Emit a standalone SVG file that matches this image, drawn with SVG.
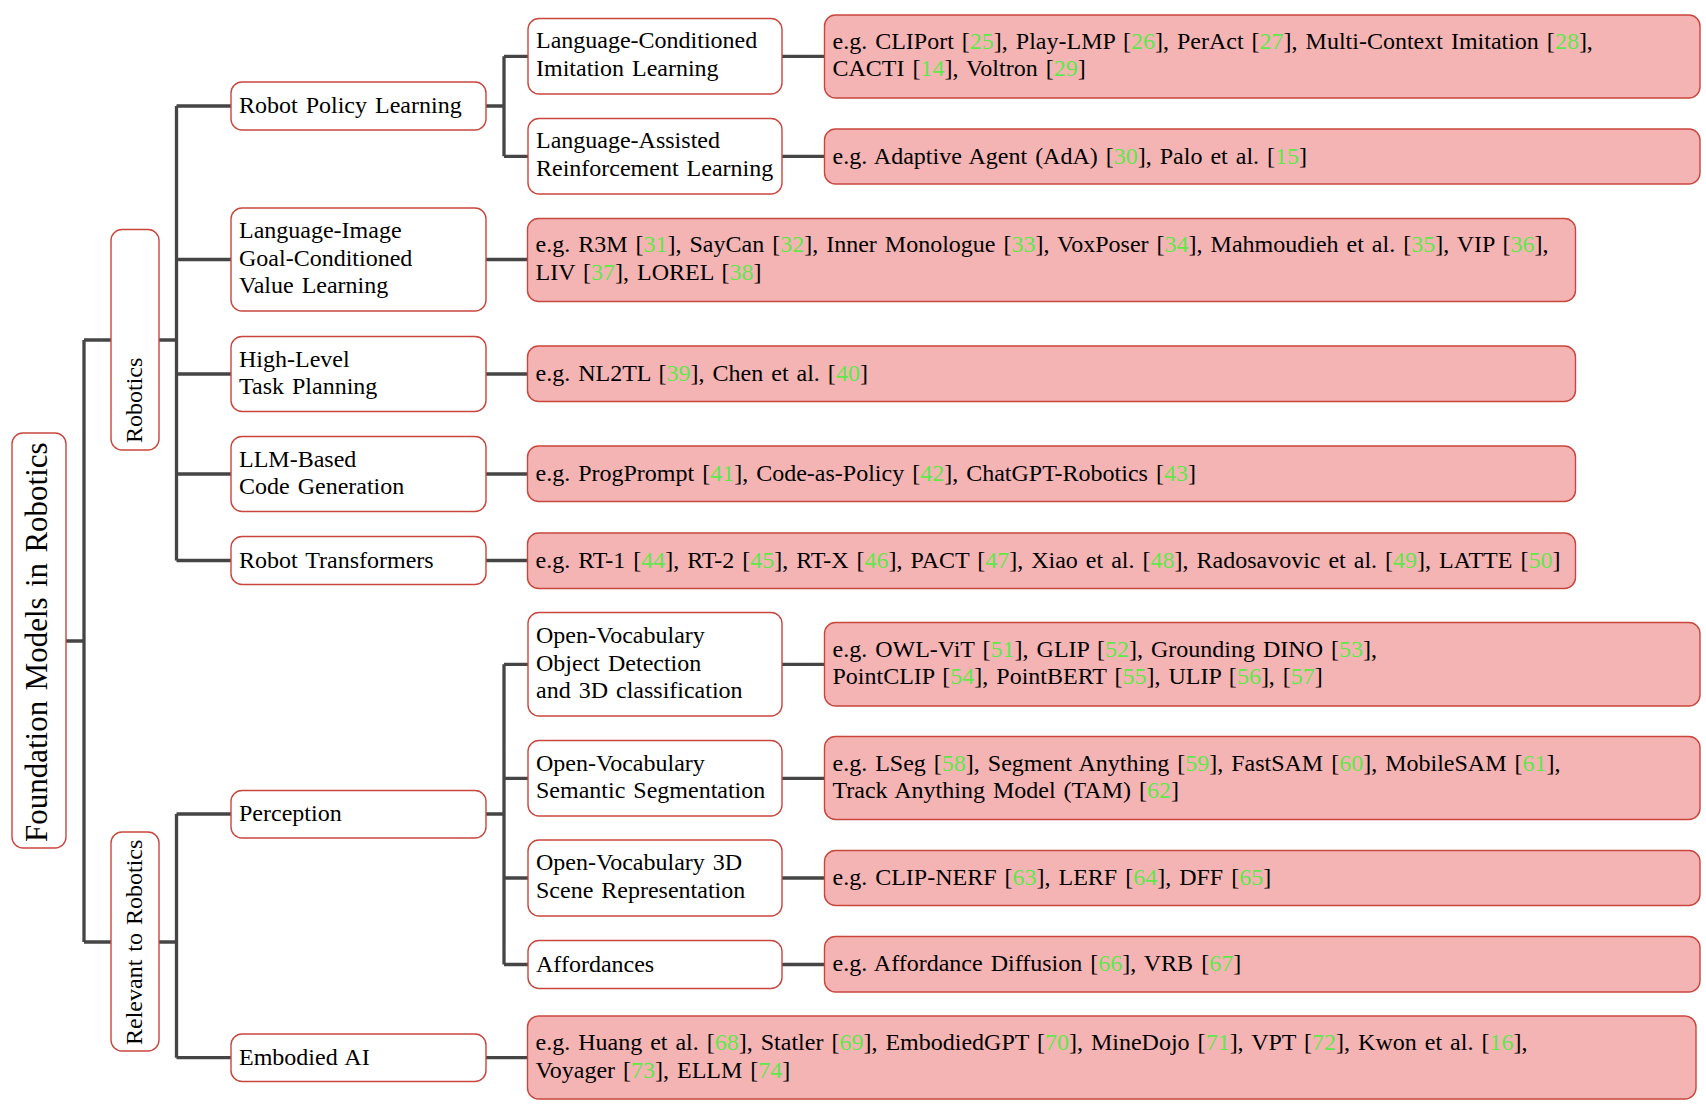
<svg xmlns="http://www.w3.org/2000/svg" width="1706" height="1114" viewBox="0 0 1706 1114">
<style>
text{font-family:"Liberation Serif","Times New Roman",serif;font-size:24px;fill:#000;word-spacing:2px}
.box{fill:#fff;stroke:#c9463d;stroke-width:1.4}
.ref{fill:#f4b4b4;stroke:#c9463d;stroke-width:1.4}
.g{fill:#5ee84a}
.root{font-size:31px;word-spacing:2.6px}
#connectors path{fill:none;stroke:#454545;stroke-width:3.3}
</style>
<rect width="1706" height="1114" fill="#fff"/>
<g id="connectors">
<path d="M66 641H84M84 340V942M84 340H111M84 942H111"/>
<path d="M159 340H176.5M176.5 106V560.5M176.5 106H231M176.5 259.5H231M176.5 374H231M176.5 474H231M176.5 560.5H231"/>
<path d="M159 942H176.5M176.5 814V1057.7M176.5 814H231M176.5 1057.7H231"/>
<path d="M486 106H504M504 56.3V156.3M504 56.3H528M504 156.3H528"/>
<path d="M486 814H504M504 664.3V964.5M504 664.3H528M504 778.3H528M504 878H528M504 964.5H528"/>
<path d="M782 56.3H824.5M782 156.3H824.5M782 664.3H824.5M782 778.3H824.5M782 878H824.5M782 964.5H824.5"/>
<path d="M486 259.5H527.5M486 374H527.5M486 474H527.5M486 560.5H527.5M486 1057.7H527.5"/>
</g>
<g id="root">
<rect class="box" x="12" y="433" width="54" height="415" rx="11"/>
<text class="root" transform="translate(47,842) rotate(-90)">Foundation Models in Robotics</text>
</g>
<g id="robotics">
<rect class="box" x="111" y="229.5" width="48" height="220.5" rx="11"/>
<text transform="translate(142,443) rotate(-90)">Robotics</text>
</g>
<g id="relevant">
<rect class="box" x="111" y="832" width="48" height="219" rx="11"/>
<text transform="translate(142,1045) rotate(-90)">Relevant to Robotics</text>
</g>
<g id="robot-policy-learning">
<rect class="box" x="231" y="82" width="255" height="48" rx="11"/>
<text x="239" y="113">Robot Policy Learning</text>
</g>
<g id="lang-image">
<rect class="box" x="231" y="208" width="255" height="103" rx="11"/>
<text x="239" y="238">Language-Image</text>
<text x="239" y="266">Goal-Conditioned</text>
<text x="239" y="293">Value Learning</text>
</g>
<g id="high-level">
<rect class="box" x="231" y="336.5" width="255" height="75" rx="11"/>
<text x="239" y="366.5">High-Level</text>
<text x="239" y="394">Task Planning</text>
</g>
<g id="llm-code">
<rect class="box" x="231" y="436.5" width="255" height="75" rx="11"/>
<text x="239" y="466.5">LLM-Based</text>
<text x="239" y="494">Code Generation</text>
</g>
<g id="robot-transformers">
<rect class="box" x="231" y="536.5" width="255" height="48" rx="11"/>
<text x="239" y="567.5">Robot Transformers</text>
</g>
<g id="perception">
<rect class="box" x="231" y="790.5" width="255" height="47.5" rx="11"/>
<text x="239" y="821.3">Perception</text>
</g>
<g id="embodied-ai">
<rect class="box" x="231" y="1034" width="255" height="47.5" rx="11"/>
<text x="239" y="1064.7">Embodied AI</text>
</g>
<g id="lang-cond-il">
<rect class="box" x="528" y="18.5" width="254" height="75.5" rx="11"/>
<text x="536" y="48.3">Language-Conditioned</text>
<text x="536" y="76">Imitation Learning</text>
</g>
<g id="lang-assist-rl">
<rect class="box" x="528" y="118.5" width="254" height="75.5" rx="11"/>
<text x="536" y="148.3">Language-Assisted</text>
<text x="536" y="176">Reinforcement Learning</text>
</g>
<g id="ov-detection">
<rect class="box" x="528" y="612.5" width="254" height="103.5" rx="11"/>
<text x="536" y="643">Open-Vocabulary</text>
<text x="536" y="670.5">Object Detection</text>
<text x="536" y="698">and 3D classification</text>
</g>
<g id="ov-segmentation">
<rect class="box" x="528" y="740.5" width="254" height="75.5" rx="11"/>
<text x="536" y="770.5">Open-Vocabulary</text>
<text x="536" y="798">Semantic Segmentation</text>
</g>
<g id="ov-3d-scene">
<rect class="box" x="528" y="840" width="254" height="76" rx="11"/>
<text x="536" y="870.3">Open-Vocabulary 3D</text>
<text x="536" y="898">Scene Representation</text>
</g>
<g id="affordances">
<rect class="box" x="528" y="940.5" width="254" height="48" rx="11"/>
<text x="536" y="971.5">Affordances</text>
</g>
<g id="ref-lcil">
<rect class="ref" x="824.5" y="15" width="875.5" height="83" rx="11"/>
<text x="832.5" y="48.5">e.g. CLIPort [<tspan class="g">25</tspan>], Play-LMP [<tspan class="g">26</tspan>], PerAct [<tspan class="g">27</tspan>], Multi-Context Imitation [<tspan class="g">28</tspan>],</text>
<text x="832.5" y="76.3">CACTI [<tspan class="g">14</tspan>], Voltron [<tspan class="g">29</tspan>]</text>
</g>
<g id="ref-larl">
<rect class="ref" x="824.5" y="129" width="875.5" height="55" rx="11"/>
<text x="832.5" y="163.5">e.g. Adaptive Agent (AdA) [<tspan class="g">30</tspan>], Palo et al. [<tspan class="g">15</tspan>]</text>
</g>
<g id="ref-li">
<rect class="ref" x="527.5" y="218.5" width="1048" height="83" rx="11"/>
<text x="535.5" y="252.3">e.g. R3M [<tspan class="g">31</tspan>], SayCan [<tspan class="g">32</tspan>], Inner Monologue [<tspan class="g">33</tspan>], VoxPoser [<tspan class="g">34</tspan>], Mahmoudieh et al. [<tspan class="g">35</tspan>], VIP [<tspan class="g">36</tspan>],</text>
<text x="535.5" y="280">LIV [<tspan class="g">37</tspan>], LOREL [<tspan class="g">38</tspan>]</text>
</g>
<g id="ref-hl">
<rect class="ref" x="527.5" y="346" width="1048" height="55.5" rx="11"/>
<text x="535.5" y="380.8">e.g. NL2TL [<tspan class="g">39</tspan>], Chen et al. [<tspan class="g">40</tspan>]</text>
</g>
<g id="ref-llm">
<rect class="ref" x="527.5" y="446" width="1048" height="55.5" rx="11"/>
<text x="535.5" y="480.8">e.g. ProgPrompt [<tspan class="g">41</tspan>], Code-as-Policy [<tspan class="g">42</tspan>], ChatGPT-Robotics [<tspan class="g">43</tspan>]</text>
</g>
<g id="ref-rt">
<rect class="ref" x="527.5" y="533" width="1048" height="55.5" rx="11"/>
<text x="535.5" y="567.8">e.g. RT-1 [<tspan class="g">44</tspan>], RT-2 [<tspan class="g">45</tspan>], RT-X [<tspan class="g">46</tspan>], PACT [<tspan class="g">47</tspan>], Xiao et al. [<tspan class="g">48</tspan>], Radosavovic et al. [<tspan class="g">49</tspan>], LATTE [<tspan class="g">50</tspan>]</text>
</g>
<g id="ref-ovd">
<rect class="ref" x="824.5" y="622.5" width="875.5" height="83.5" rx="11"/>
<text x="832.5" y="656.5">e.g. OWL-ViT [<tspan class="g">51</tspan>], GLIP [<tspan class="g">52</tspan>], Grounding DINO [<tspan class="g">53</tspan>],</text>
<text x="832.5" y="684.3">PointCLIP [<tspan class="g">54</tspan>], PointBERT [<tspan class="g">55</tspan>], ULIP [<tspan class="g">56</tspan>], [<tspan class="g">57</tspan>]</text>
</g>
<g id="ref-ovs">
<rect class="ref" x="824.5" y="736.5" width="875.5" height="83" rx="11"/>
<text x="832.5" y="770.5">e.g. LSeg [<tspan class="g">58</tspan>], Segment Anything [<tspan class="g">59</tspan>], FastSAM [<tspan class="g">60</tspan>], MobileSAM [<tspan class="g">61</tspan>],</text>
<text x="832.5" y="798.2">Track Anything Model (TAM) [<tspan class="g">62</tspan>]</text>
</g>
<g id="ref-ov3d">
<rect class="ref" x="824.5" y="850.5" width="875.5" height="55" rx="11"/>
<text x="832.5" y="885">e.g. CLIP-NERF [<tspan class="g">63</tspan>], LERF [<tspan class="g">64</tspan>], DFF [<tspan class="g">65</tspan>]</text>
</g>
<g id="ref-aff">
<rect class="ref" x="824.5" y="936.5" width="875.5" height="55.5" rx="11"/>
<text x="832.5" y="971.3">e.g. Affordance Diffusion [<tspan class="g">66</tspan>], VRB [<tspan class="g">67</tspan>]</text>
</g>
<g id="ref-embodied">
<rect class="ref" x="527.5" y="1016" width="1168.5" height="83" rx="11"/>
<text x="535.5" y="1050">e.g. Huang et al. [<tspan class="g">68</tspan>], Statler [<tspan class="g">69</tspan>], EmbodiedGPT [<tspan class="g">70</tspan>], MineDojo [<tspan class="g">71</tspan>], VPT [<tspan class="g">72</tspan>], Kwon et al. [<tspan class="g">16</tspan>],</text>
<text x="535.5" y="1077.7">Voyager [<tspan class="g">73</tspan>], ELLM [<tspan class="g">74</tspan>]</text>
</g>
</svg>
